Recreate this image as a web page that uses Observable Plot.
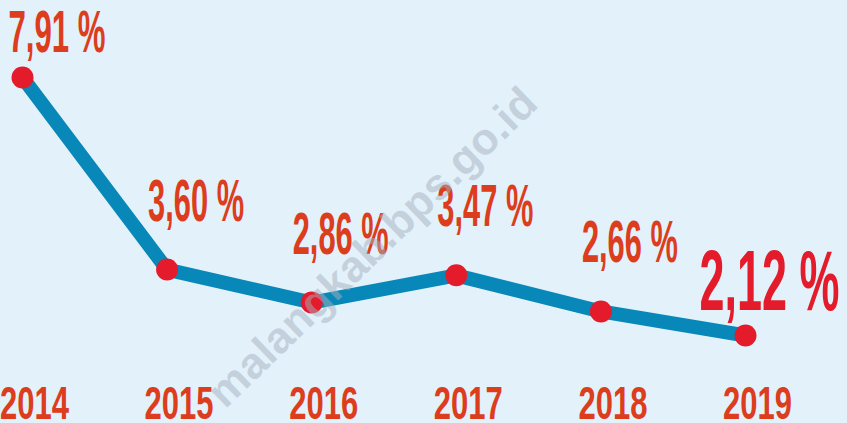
<!DOCTYPE html>
<html>
<head>
<meta charset="utf-8">
<script src="https://cdn.jsdelivr.net/npm/d3@7"></script>
<script src="https://cdn.jsdelivr.net/npm/@observablehq/plot@0.6"></script>
<style>
  html, body { margin: 0; padding: 0; background: #e3f1fb; }
  #wrap { position: relative; width: 847px; height: 423px; overflow: hidden; }
  #wm {
    position: absolute; left: 372px; top: 247px;
    transform: translate(-50%, -50%) rotate(-44deg);
    font-family: "Liberation Sans", Arial, sans-serif; font-weight: bold;
    font-size: 44px; color: rgba(165, 178, 190, 0.5); white-space: nowrap;
    pointer-events: none;
  }
</style>
</head>
<body>
<div id="wrap"></div>
<script>
const years = [2014, 2015, 2016, 2017, 2018, 2019];
const rates = [7.91, 3.60, 2.86, 3.47, 2.66, 2.12];
const labels = ["7,91 %", "3,60 %", "2,86 %", "3,47 %", "2,66 %", "2,12 %"];
const yearLabels = ["2014", "2015", "2016", "2017", "2018", "2019"];

const data = years.map((y, i) => ({year: y, rate: rates[i], label: labels[i], yl: yearLabels[i]}));
const first = data.slice(0, 1);
const middle = data.slice(1, -1);
const last = data.slice(-1);

const font = "'Liberation Sans', Arial, sans-serif";
const labelColor = "#dc3d1c";
const highlight = "#e31b2b";

const chart = Plot.plot({
  width: 847,
  height: 423,
  marginLeft: 22,
  marginRight: 102,
  marginTop: 77,
  marginBottom: 88,
  style: {background: "#e3f1fb", fontFamily: font},
  x: {domain: [2014, 2019], axis: null},
  y: {domain: [2.12, 7.91], axis: null},
  marks: [
    Plot.line(data, {x: "year", y: "rate", stroke: "#0788b8", strokeWidth: 14}),
    Plot.dot(data, {x: "year", y: "rate", r: 11, fill: highlight, stroke: "none"}),
    Plot.text(first, {x: "year", y: "rate", text: "label", textAnchor: "start", lineAnchor: "bottom",
      dx: -14, dy: -26, fontSize: 60, fontWeight: "bold", fill: labelColor}),
    Plot.text(middle, {x: "year", y: "rate", text: "label", textAnchor: "start", lineAnchor: "bottom",
      dx: -19, dy: -49, fontSize: 60, fontWeight: "bold", fill: labelColor}),
    Plot.text(last, {x: "year", y: "rate", text: "label", textAnchor: "start", lineAnchor: "bottom",
      dx: -46, dy: -26, fontSize: 86, fontWeight: "bold", fill: highlight}),
    Plot.text(data, {x: "year", text: "yl", frameAnchor: "bottom", lineAnchor: "bottom",
      dx: 12, dy: 83, fontSize: 46, fontWeight: "bold", fill: labelColor})
  ]
});

const wrap = document.getElementById("wrap");
wrap.appendChild(chart);
const wm = document.createElement("div");
wm.id = "wm";
wm.textContent = "malangkab.bps.go.id";
wrap.appendChild(wm);

// condense the labels to the reference's narrow lettering
const groups = d3.select(chart).selectAll('g[aria-label="text"]').nodes();
const targetWidths = [97, 96, 140, 69];
groups.forEach((g, gi) => {
  d3.select(g).selectAll("text").each(function() {
    this.setAttribute("textLength", targetWidths[gi]);
    this.setAttribute("lengthAdjust", "spacingAndGlyphs");
  });
});
</script>
</body>
</html>
